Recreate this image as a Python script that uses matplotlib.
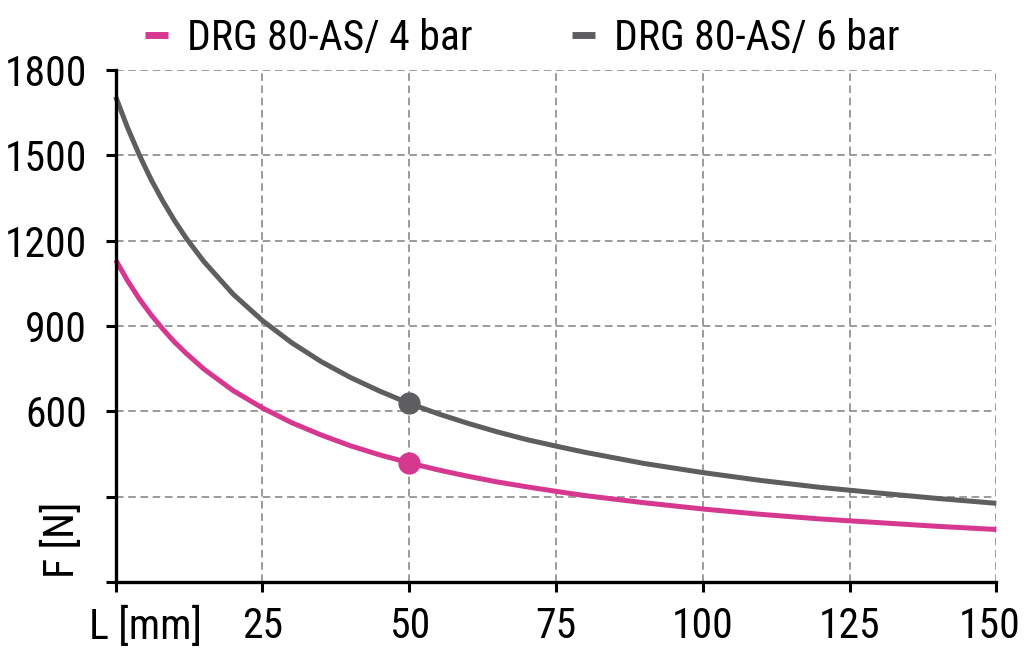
import matplotlib.pyplot as plt
from matplotlib import font_manager
from matplotlib.transforms import ScaledTranslation

# values
L_mm = [0, 2, 4, 6, 8, 10, 12, 15, 20, 25, 30, 35, 40, 45, 50, 55, 60, 65, 70, 75,
        80, 90, 100, 110, 120, 130, 140, 150]
F_4bar = [1132, 1060, 996, 940, 890, 844, 804, 749, 673, 612, 560, 517, 479, 447, 419,
          394, 372, 352, 335, 319, 304, 279, 257, 238, 222, 209, 196, 185]
F_6bar = [1706, 1598, 1502, 1416, 1340, 1271, 1209, 1127, 1012, 919, 841, 775, 719, 671,
          628, 591, 558, 528, 501, 478, 456, 417, 385, 357, 333, 313, 294, 277]
marker_L = 50
marker_4bar = 419
marker_6bar = 628

labels = ["DRG 80-AS/ 4 bar", "DRG 80-AS/ 6 bar"]
colors = ["#d6388f", "#5e5e60"]

yticks = [0, 300, 600, 900, 1200, 1500, 1800]
xticks = [0, 25, 50, 75, 100, 125, 150]

names = {f.name for f in font_manager.fontManager.ttflist}
fs = 25
for cand in ['Roboto Condensed', 'Fira Sans Condensed', 'Barlow Semi Condensed', 'Encode Sans Condensed']:
    if cand in names:
        plt.rcParams['font.family'] = [cand, 'DejaVu Sans']
        fs = 30
        break
else:
    plt.rcParams['font.family'] = ['DejaVu Sans']

fig = plt.figure(figsize=(10.24, 6.6), dpi=100)
ax = fig.add_axes([0.113, 0.118, 0.86, 0.776])

for F, c, lab in zip([F_4bar, F_6bar], colors, labels):
    ax.plot(L_mm, F, color=c, lw=3.6, label=lab, solid_capstyle='butt',
            solid_joinstyle='round', clip_on=False)
ax.plot(marker_L, marker_4bar, 'o', color=colors[0], ms=15, zorder=5)
ax.plot(marker_L, marker_6bar, 'o', color=colors[1], ms=15, zorder=5)

ax.set_xlim(0, 150)
ax.set_ylim(0, 1800)
ax.set_xticks(xticks)
ax.set_yticks(yticks)
ax.set_xticklabels([''] + [str(v) for v in xticks[1:]])
ax.set_yticklabels(['', ''] + [str(v) for v in yticks[2:]])
ax.tick_params(length=7.5, width=2.2, labelsize=fs, direction='out')
ax.tick_params(axis='y', pad=13)
ax.tick_params(axis='x', pad=10)

# nudge the last x label so it stays inside the picture
last = ax.get_xticklabels()[-1]
last.set_transform(last.get_transform() + ScaledTranslation(-5 / 72, 0, fig.dpi_scale_trans))

ax.grid(True, color='#808080', lw=1.1, ls=(0, (5, 3)))
for s in ['top', 'right']:
    ax.spines[s].set_visible(False)
for s in ['left', 'bottom']:
    ax.spines[s].set_linewidth(2.4)

ax.text(-0.061, 0.082, 'F [N]', transform=ax.transAxes, rotation=90,
        fontsize=fs, ha='center', va='center')
ax.annotate('L [mm]', xy=(0, 0), xycoords='axes fraction', xytext=(-19, -17.5),
            textcoords='offset points', fontsize=fs, ha='left', va='top')

leg = fig.legend(loc='upper center', bbox_to_anchor=(0.51, 1.03), ncol=2, frameon=False,
                 fontsize=fs, handlelength=0.55, handletextpad=0.45, columnspacing=2.4)
for h in leg.get_lines():
    h.set_linewidth(5)

fig.savefig('out.png', dpi=100)
